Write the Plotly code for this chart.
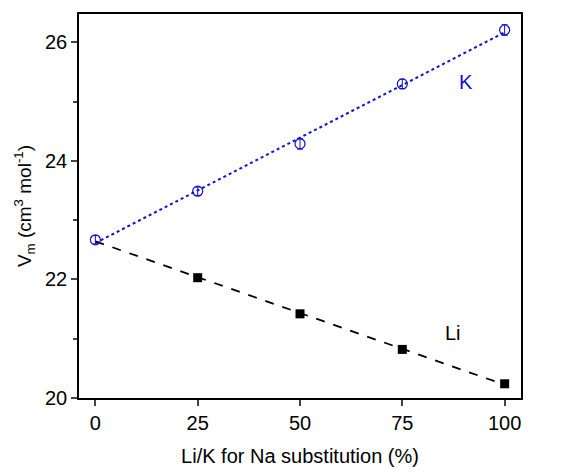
import numpy as np
import plotly.graph_objects as go

x_pct = [0, 25, 50, 75, 100]
k_vals = [22.67, 23.49, 24.29, 25.30, 26.21]
k_err = [0.07, 0.07, 0.09, 0.08, 0.09]
li_vals = [22.66, 22.03, 21.42, 20.82, 20.24]
li_err = [0.05, 0.05, 0.06, 0.05, 0.05]

font = "Liberation Sans, Arial, sans-serif"

kf = np.polyfit(x_pct, k_vals, 1)
lf = np.polyfit(x_pct, li_vals, 1)
xl = np.array([x_pct[0], x_pct[-1]])

fig = go.Figure()
fig.add_trace(go.Scatter(x=xl, y=np.polyval(kf, xl), mode="lines",
                         line=dict(color="#1010d0", dash="dot", width=2), showlegend=False))
fig.add_trace(go.Scatter(x=xl, y=np.polyval(lf, xl), mode="lines",
                         line=dict(color="black", dash="dash", width=1.8), showlegend=False))
fig.add_trace(go.Scatter(x=x_pct[1:], y=li_vals[1:], mode="markers",
                         error_y=dict(type="data", array=li_err[1:], color="black", thickness=1, width=3),
                         marker=dict(symbol="square", size=9, color="black"), showlegend=False))
fig.add_trace(go.Scatter(x=x_pct, y=k_vals, mode="markers",
                         error_y=dict(type="data", array=k_err, color="#1010d0", thickness=1, width=3),
                         marker=dict(symbol="circle-open", size=10, color="#1010d0",
                                     line=dict(width=1.2, color="#1010d0")),
                         showlegend=False))

fig.add_annotation(x=90.5, y=25.33, text="K", showarrow=False,
                   font=dict(family=font, size=20, color="#1010d0"))
fig.add_annotation(x=87.4, y=21.09, text="Li", showarrow=False,
                   font=dict(family=font, size=20, color="black"))

fig.update_layout(
    width=574, height=476,
    margin=dict(l=79, r=53, t=14, b=74),
    paper_bgcolor="white", plot_bgcolor="white",
    font=dict(family=font, size=20, color="black"),
    xaxis=dict(range=[-4, 104], tickvals=[0, 25, 50, 75, 100], ticks="outside", ticklen=6,
               tickwidth=1.5, linecolor="black", linewidth=1.5, mirror=True, showgrid=False,
               zeroline=False, tickfont=dict(size=20),
               title=dict(text="Li/K for Na substitution (%)", font=dict(size=20), standoff=16)),
    yaxis=dict(range=[20, 26.48], tickvals=[20, 22, 24, 26], ticks="outside", ticklen=6,
               tickwidth=1.5, linecolor="black", linewidth=1.5, mirror=True, showgrid=False,
               zeroline=False, tickfont=dict(size=20),
               minor=dict(tickvals=[21, 23, 25], ticks="outside", ticklen=4, tickwidth=1.5),
               title=dict(text="V<sub>m</sub> (cm<sup>3</sup> mol<sup>-1</sup>)", font=dict(size=19), standoff=8)),
)

fig.write_html("out.html")
